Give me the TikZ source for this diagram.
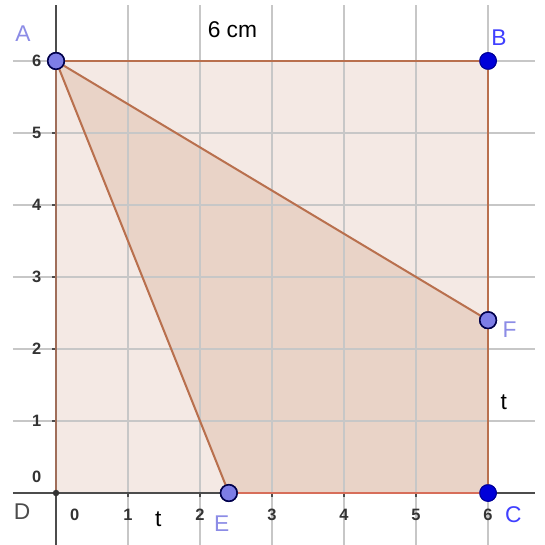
\documentclass[tikz,border=0pt]{standalone}
\usepackage{fontspec}
\setmainfont{Liberation Sans}
\begin{document}
\begin{tikzpicture}[x=1cm,y=1cm,
  gridline/.style={draw=black!22,line width=0.5pt},
  axisline/.style={draw=black!70,line width=0.7pt},
  edgeline/.style={draw={rgb,255:red,185;green,112;blue,78},line width=0.8pt},
  freept/.style={circle,fill={rgb,255:red,125;green,125;blue,230},draw=black!70!blue,line width=0.6pt,inner sep=0pt,minimum size=0.23cm},
  fixpt/.style={circle,fill=blue!85!black,draw=blue!60!black,inner sep=0pt,minimum size=0.23cm},
  ptlabel/.style={text={rgb,255:red,140;green,140;blue,230},font=\fontsize{9}{10}\selectfont},
  ticklab/.style={text=black!80,font=\bfseries\fontsize{6.5}{7}\selectfont},
  meas/.style={font=\fontsize{9}{10}\selectfont}]
\useasboundingbox (-0.778,-0.722) rectangle (6.778,6.847);
\fill[white] (-0.778,-0.722) rectangle (6.778,6.847);
% square fill
\fill[fill={rgb,255:red,244;green,233;blue,228}] (0,0) rectangle (6,6);
% quadrilateral fill
\fill[fill={rgb,255:red,233;green,211;blue,199}] (0,6) -- (2.4,0) -- (6,0) -- (6,2.4) -- cycle;
% grid
\foreach \i in {1,...,6} \draw[gridline] (\i,-0.722) -- (\i,6.78);
\foreach \j in {1,...,6} \draw[gridline] (-0.6,\j) -- (6.65,\j);
% axes
\draw[axisline] (-0.6,0) -- (6.65,0);
\draw[axisline] (0,-0.722) -- (0,6.78);
\foreach \i in {1,...,6} \draw[axisline,line width=0.5pt] (\i,0) -- (\i,-0.05);
\foreach \j in {1,...,6} \draw[axisline,line width=0.5pt] (0,\j) -- (-0.05,\j);
% points
\coordinate (D) at (0,0);
\node[freept] (A) at (0,6) {};
\node[fixpt] (B) at (6,6) {};
\node[fixpt] (C) at (6,0) {};
\node[freept] (E) at (2.4,0) {};
\node[freept] (F) at (6,2.4) {};
% square edges
\draw[edgeline] (A.center) -- (B.center) -- (C.center);
\draw[draw={rgb,255:red,215;green,110;blue,90},line width=0.8pt] (C.center) -- (E.center);
\draw[draw={rgb,255:red,160;green,110;blue,90},line width=0.8pt] (D) -- (A.center);
% triangle edges
\draw[edgeline] (A.center) -- (E.center);
\draw[edgeline] (A.center) -- (F.center);
% redraw points on top
\node[freept] at (A) {};
\node[fixpt] at (B) {};
\node[fixpt] at (C) {};
\node[freept] at (E) {};
\node[freept] at (F) {};
\fill[black!80] (D) circle (0.045);
% tick labels
\foreach \j in {1,...,6} \node[ticklab,anchor=east] (ly\j) at (-0.08,\j) {\j};
\node[ticklab,anchor=south east] (ly0) at (-0.08,0.02) {0};
\foreach \i in {1,...,6} \node[ticklab,anchor=north] (lx\i) at (\i,-0.1) {\i};
\node[ticklab,anchor=north west] (lx0) at (0.07,-0.1) {0};
% point labels
\node[ptlabel] (la) at (-0.46,6.38) {A};
\node[ptlabel,text=blue!75!white] (lb) at (6.15,6.32) {B};
\node[ptlabel,text=blue!75!white] (lc) at (6.35,-0.3) {C};
\node[ptlabel,text=black!70] (ld) at (-0.47,-0.26) {D};
\node[ptlabel] (le) at (2.3,-0.42) {E};
\node[ptlabel] (lf) at (6.3,2.27) {F};
% measurements
\node[meas] (cm) at (2.45,6.43) {6 cm};
\node[meas] (t1) at (1.42,-0.37) {t};
\node[meas] (t2) at (6.22,1.26) {t};
\end{tikzpicture}
\end{document}
